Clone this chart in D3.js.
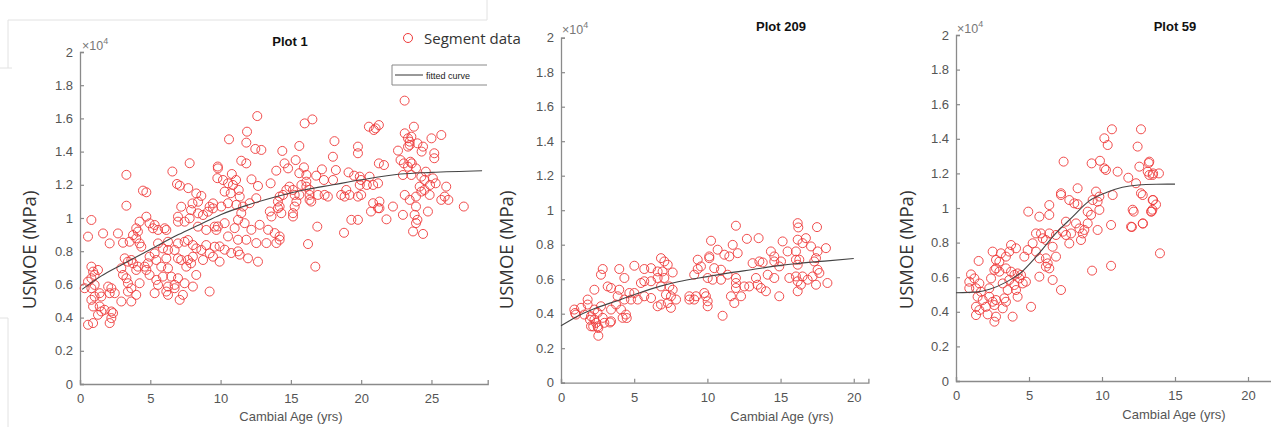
<!DOCTYPE html>
<html><head><meta charset="utf-8">
<script src="https://cdn.jsdelivr.net/npm/d3@7"></script>
<style>body{margin:0;background:#fff;} svg{display:block;}</style>
</head><body><svg id="c" width="1271" height="427"></svg>
<script>
// ---------------- DATA ----------------
const yTicks = [0,0.2,0.4,0.6,0.8,1,1.2,1.4,1.6,1.8,2];
const plot1Ticks = [0,5,10,15,20,25];
const plot209Ticks = [0,5,10,15,20];
const plot59Ticks = [0,5,10,15,20];
const titles = ["Plot 1","Plot 209","Plot 59"];
const xLabel = "Cambial Age (yrs)";
const yLabel = "USMOE (MPa)";
const legendLabels = ["Segment data","fitted curve"];

// values in units of 10^4 MPa
const plot1Points = [[7.8,1.33],[6.57,1.28],[9.8,1.31],[3.3,1.26],[9.77,1.24],[6.9,1.205],[7.1,1.195],[7.7,1.18],[4.48,1.165],[4.72,1.155],[8.27,1.148],[8.63,1.133],[8.0,1.088],[8.4,1.098],[9.46,1.088],[9.22,1.068],[3.3,1.074],[7.2,1.068],[7.9,1.048],[8.4,1.028],[8.75,1.018],[9.1,1.038],[9.46,1.058],[6.97,1.008],[7.44,0.978],[7.8,0.998],[6.97,0.978],[0.81,0.988],[4.72,1.008],[4.24,0.978],[4.95,0.968],[5.19,0.938],[4.0,0.938],[4.12,0.918],[6.02,0.938],[6.14,0.928],[5.31,0.958],[5.55,0.928],[8.39,0.948],[8.98,0.928],[9.58,0.948],[9.7,0.928],[0.57,0.888],[1.64,0.907],[2.7,0.907],[2.11,0.847],[3.06,0.851],[3.53,0.857],[3.77,0.897],[4.24,0.847],[4.36,0.827],[4.0,0.877],[5.55,0.847],[6.26,0.857],[6.97,0.847],[7.44,0.857],[7.68,0.867],[8.03,0.837],[8.27,0.817],[8.63,0.807],[8.98,0.837],[9.58,0.827],[9.22,0.787],[9.46,0.767],[8.75,0.747],[8.03,0.767],[7.9,0.727],[7.68,0.747],[6.97,0.757],[7.2,0.747],[7.56,0.707],[6.73,0.807],[6.26,0.807],[5.9,0.817],[5.31,0.787],[4.95,0.767],[6.14,0.757],[5.78,0.707],[6.26,0.697],[5.43,0.747],[4.83,0.727],[4.6,0.707],[4.72,0.687],[4.12,0.707],[4.0,0.687],[3.77,0.727],[3.65,0.747],[3.41,0.737],[3.18,0.757],[2.94,0.697],[3.06,0.657],[3.3,0.637],[4.95,0.657],[5.43,0.627],[5.9,0.647],[6.49,0.647],[6.97,0.637],[6.73,0.597],[7.44,0.607],[8.03,0.587],[8.27,0.657],[5.55,0.597],[6.26,0.587],[6.73,0.577],[4.24,0.607],[3.41,0.607],[3.65,0.577],[3.41,0.557],[4.0,0.537],[5.31,0.547],[6.14,0.557],[6.26,0.537],[7.09,0.507],[7.32,0.537],[9.22,0.557],[0.81,0.707],[0.93,0.677],[1.04,0.657],[0.81,0.637],[1.28,0.687],[0.57,0.617],[1.04,0.597],[0.81,0.577],[0.33,0.577],[2.0,0.587],[2.23,0.577],[2.47,0.547],[2.11,0.547],[1.4,0.547],[1.52,0.527],[1.04,0.527],[0.81,0.507],[0.93,0.467],[1.4,0.467],[1.52,0.437],[1.28,0.417],[1.75,0.447],[2.23,0.437],[2.94,0.497],[3.65,0.497],[0.57,0.357],[0.93,0.367],[2.11,0.367],[2.35,0.427],[2.23,0.397],
[12.61,1.614],[15.98,1.57],[16.53,1.594],[11.88,1.52],[10.6,1.474],[11.83,1.454],[12.47,1.416],[12.9,1.41],[18.1,1.463],[19.77,1.43],[19.77,1.39],[14.39,1.404],[15.6,1.434],[17.99,1.369],[15.34,1.349],[14.55,1.329],[14.8,1.299],[13.96,1.285],[15.93,1.305],[15.6,1.27],[16.1,1.26],[11.47,1.345],[11.83,1.329],[9.81,1.299],[10.8,1.265],[11.1,1.229],[12.2,1.233],[12.66,1.193],[10.17,1.229],[17.21,1.293],[18.2,1.289],[19.1,1.275],[19.5,1.255],[19.99,1.229],[16.8,1.255],[17.35,1.229],[18.0,1.229],[13.56,1.209],[14.9,1.189],[14.68,1.169],[15.15,1.169],[15.75,1.199],[16.1,1.219],[16.1,1.189],[16.33,1.169],[15.27,1.139],[10.29,1.159],[10.72,1.149],[11.29,1.169],[11.36,1.129],[10.53,1.209],[10.88,1.199],[12.54,1.119],[12.07,1.089],[14.2,1.129],[14.44,1.139],[14.08,1.099],[14.2,1.069],[15.6,1.139],[16.33,1.139],[16.33,1.109],[16.92,1.139],[17.4,1.139],[17.63,1.129],[18.58,1.139],[18.94,1.169],[18.82,1.129],[19.17,1.139],[19.77,1.129],[20.0,1.139],[15.39,1.099],[16.45,1.099],[15.27,1.069],[10.05,1.069],[10.53,1.089],[11.12,1.079],[11.6,1.069],[11.47,1.029],[11.24,0.989],[11.71,0.969],[11.0,0.939],[10.29,0.969],[9.81,0.949],[12.78,0.959],[12.19,0.929],[13.38,0.929],[13.85,0.909],[14.2,0.889],[14.32,1.029],[13.62,1.009],[13.5,1.039],[14.08,1.059],[15.15,1.029],[15.15,1.009],[10.53,0.889],[11.24,0.869],[11.83,0.869],[12.54,0.849],[13.26,0.849],[13.97,0.849],[14.2,0.869],[9.93,0.829],[10.29,0.809],[10.76,0.789],[11.24,0.799],[11.36,0.779],[11.95,0.757],[12.66,0.737],[9.93,0.737],[16.88,0.948],[18.78,0.911],[19.3,0.989],[19.77,0.989],[16.22,0.843],[16.74,0.707],
[23.09,1.707],[20.55,1.55],[20.9,1.53],[21.26,1.56],[21.03,1.54],[23.75,1.55],[23.1,1.51],[23.33,1.48],[23.45,1.46],[23.57,1.49],[23.33,1.43],[23.45,1.44],[25.0,1.48],[25.7,1.5],[22.62,1.406],[24.0,1.45],[24.4,1.43],[24.3,1.4],[25.2,1.39],[25.2,1.36],[21.26,1.329],[21.62,1.319],[22.8,1.349],[23.04,1.329],[23.5,1.339],[23.6,1.329],[23.33,1.309],[23.9,1.299],[24.6,1.279],[22.97,1.259],[23.57,1.259],[19.9,1.249],[20.6,1.249],[20.4,1.199],[20.85,1.199],[21.2,1.209],[19.9,1.199],[24.28,1.249],[24.5,1.229],[25.1,1.239],[24.9,1.199],[25.3,1.209],[24.16,1.189],[24.5,1.169],[24.87,1.139],[24.28,1.159],[26.05,1.189],[23.1,1.139],[23.45,1.109],[23.9,1.129],[25.7,1.109],[26.2,1.109],[25.94,1.129],[20.85,1.089],[21.3,1.099],[21.2,1.059],[20.7,1.039],[21.3,1.059],[22.26,1.069],[22.97,1.019],[23.9,1.069],[23.8,1.019],[24.0,0.989],[24.75,1.039],[23.9,0.969],[21.8,0.992],[23.69,0.919],[24.4,0.904],[27.3,1.069]];
const plot1Fit = [[0.15,0.57],[1.5,0.65],[3,0.72],[5,0.81],[7,0.9],[8.5,0.96],[10,1.02],[12,1.08],[14,1.13],[16,1.17],[18,1.2],[20,1.23],[22.8,1.265],[25,1.275],[28.6,1.285]];

const plot209Points = [[11.95,0.91],[16.17,0.925],[16.21,0.9],[17.49,0.902],[10.25,0.823],[12.7,0.834],[13.5,0.838],[15.14,0.819],[16.17,0.829],[16.5,0.809],[16.73,0.838],[11.73,0.799],[10.7,0.771],[11.16,0.742],[10.13,0.732],[14.34,0.761],[14.57,0.732],[15.48,0.761],[17.08,0.79],[17.53,0.761],[18.1,0.78],[17.42,0.722],[16.05,0.761],[16.28,0.713],[12.07,0.751],[11.5,0.732],[9.34,0.713],[10.13,0.722],[6.83,0.722],[7.06,0.703],[7.29,0.684],[6.94,0.645],[7.63,0.639],[2.85,0.659],[2.73,0.626],[3.98,0.659],[4.33,0.607],[5.01,0.678],[5.69,0.659],[6.15,0.664],[6.6,0.645],[9.34,0.659],[9.56,0.674],[10.47,0.664],[10.93,0.655],[11.38,0.626],[13.09,0.693],[13.55,0.703],[13.78,0.697],[14.57,0.703],[14.91,0.674],[15.03,0.703],[16.05,0.713],[16.17,0.684],[17.3,0.703],[17.53,0.655],[9.1,0.626],[10.02,0.607],[10.36,0.597],[10.93,0.597],[11.95,0.607],[11.95,0.578],[11.95,0.549],[11.61,0.501],[12.3,0.501],[12.52,0.558],[13.32,0.607],[14.12,0.626],[14.57,0.607],[15.6,0.607],[16.05,0.616],[16.17,0.588],[16.5,0.616],[16.85,0.597],[17.19,0.616],[17.65,0.636],[12.86,0.558],[13.43,0.568],[13.66,0.549],[14.0,0.53],[14.91,0.501],[16.39,0.568],[16.17,0.53],[17.42,0.568],[18.2,0.578],[5.46,0.578],[5.69,0.588],[6.15,0.588],[6.6,0.607],[7.06,0.607],[3.19,0.558],[3.42,0.549],[2.28,0.539],[3.98,0.539],[4.67,0.52],[5.01,0.52],[6.83,0.558],[7.4,0.558],[7.63,0.539],[7.17,0.51],[7.51,0.501],[7.86,0.482],[8.77,0.501],[9.22,0.501],[9.79,0.52],[9.9,0.501],[10.02,0.472],[10.02,0.443],[6.6,0.443],[6.83,0.453],[7.29,0.462],[7.51,0.434],[8.77,0.482],[9.1,0.482],[6.15,0.491],[5.69,0.501],[5.24,0.482],[4.78,0.482],[4.33,0.482],[3.87,0.501],[11.84,0.462],[11.04,0.388],[1.82,0.482],[1.82,0.453],[1.37,0.434],[0.91,0.424],[1.02,0.395],[1.59,0.395],[2.28,0.424],[2.5,0.405],[2.05,0.385],[2.73,0.443],[3.42,0.424],[3.76,0.453],[4.1,0.424],[4.44,0.395],[4.21,0.376],[3.42,0.356],[2.85,0.376],[2.96,0.347],[2.28,0.366],[2.39,0.347],[2.5,0.327],[2.05,0.327],[0.96,0.404],[1.98,0.365],[2.2,0.326],[2.55,0.317],[2.55,0.272],[3.35,0.349],[4.49,0.375]];
const plot209Fit = [[0,0.33],[1,0.38],[2.3,0.43],[4,0.48],[5,0.51],[6.8,0.56],[8,0.585],[10,0.615],[11.4,0.635],[13,0.655],[15,0.68],[16,0.69],[18,0.705],[20,0.72]];

const plot59Points = [[10.68,1.455],[12.67,1.455],[10.16,1.403],[10.39,1.364],[12.44,1.355],[7.37,1.268],[9.29,1.258],[9.86,1.273],[10.16,1.229],[10.27,1.22],[11.07,1.21],[11.8,1.175],[12.56,1.239],[13.13,1.21],[13.24,1.268],[13.47,1.191],[13.24,1.191],[12.33,1.143],[12.67,1.085],[12.79,1.075],[13.47,1.046],[7.19,1.085],[7.19,1.075],[8.33,1.114],[9.59,1.095],[9.82,1.066],[9.36,1.046],[9.7,1.037],[10.73,1.075],[7.76,1.046],[8.1,1.027],[8.33,1.022],[6.39,1.017],[6.39,0.96],[4.95,0.979],[5.71,0.95],[9.02,0.979],[9.25,0.96],[9.82,0.989],[12.17,0.979],[13.36,0.979],[7.53,0.921],[8.22,0.911],[8.45,0.882],[9.02,0.911],[9.7,0.873],[10.62,0.902],[11.99,0.892],[12.79,0.911],[5.48,0.853],[5.82,0.853],[6.39,0.853],[6.85,0.844],[7.31,0.863],[7.53,0.844],[7.88,0.853],[8.68,0.853],[8.79,0.873],[5.94,0.825],[6.16,0.815],[7.76,0.795],[8.56,0.815],[3.77,0.786],[4.11,0.767],[3.65,0.748],[5.25,0.796],[4.91,0.757],[5.48,0.748],[2.51,0.748],[3.08,0.738],[3.42,0.719],[2.74,0.7],[2.97,0.69],[4.68,0.719],[5.71,0.709],[6.16,0.709],[6.85,0.719],[6.62,0.776],[6.28,0.68],[6.16,0.661],[6.39,0.651],[1.55,0.694],[2.63,0.642],[2.74,0.651],[2.97,0.632],[3.42,0.651],[3.77,0.632],[4.0,0.613],[4.22,0.622],[4.34,0.593],[4.57,0.564],[4.79,0.574],[4.45,0.613],[5.71,0.603],[6.62,0.584],[7.19,0.526],[9.32,0.638],[10.62,0.666],[1.03,0.616],[1.26,0.593],[0.91,0.574],[1.6,0.564],[0.91,0.536],[1.37,0.536],[1.71,0.516],[2.28,0.536],[2.4,0.593],[3.2,0.564],[3.65,0.584],[4.0,0.555],[4.11,0.526],[3.54,0.526],[1.48,0.487],[1.83,0.468],[2.28,0.487],[2.51,0.458],[2.74,0.468],[2.63,0.439],[1.37,0.429],[2.05,0.429],[1.6,0.41],[3.31,0.478],[3.42,0.458],[3.2,0.42],[5.14,0.429],[3.88,0.372],[2.74,0.372],[2.17,0.385],[2.63,0.343],[1.37,0.381],[4.22,0.487],[13.97,0.738],[13.5,1.046],[13.7,1.02],[13.45,0.99],[13.2,1.26],[13.9,1.2],[13.5,1.2],[12.1,0.99],[12.05,0.89],[12.8,0.91],[13.4,0.98]];
const plot59Fit = [[0,0.51],[1.5,0.515],[2.3,0.53],[3.4,0.57],[4.5,0.63],[5.3,0.7],[6,0.77],[6.8,0.85],[8,0.95],[9.1,1.04],[10.3,1.09],[11.4,1.12],[12.5,1.133],[13.7,1.137],[15,1.138]];

// ---------------- LAYOUT ----------------
const panels = [
  {title:titles[0], pts:plot1Points, fit:plot1Fit, xt:plot1Ticks, xd:[0,29], xr:[80,487.7], yr:[384,52],
   tt:[290,46], xl:[291,421], yl:[30,250], ex:[82,50]},
  {title:titles[1], pts:plot209Points, fit:plot209Fit, xt:plot209Ticks, xd:[0,21], xr:[561,868.4], yr:[382.7,37.7],
   tt:[781,31], xl:[782,421], yl:[507,250], ex:[562,34]},
  {title:titles[2], pts:plot59Points, fit:plot59Fit, xt:plot59Ticks, xd:[0,22], xr:[956,1277.2], yr:[381,35],
   tt:[1175,31], xl:[1174,419], yl:[907,250], ex:[957,33]}
];

const svg = d3.select("#c");
const axisCol = "#8a8a8a", textCol = "#555";
const fontAx = "Liberation Sans, Arial, sans-serif";

// faint frame artifacts
const faint = svg.append("g").attr("stroke","#e2e2e2").attr("stroke-width",1).attr("fill","none");
faint.append("path").attr("d","M8,68 L8,20 L487,20 L487,0");
faint.append("path").attr("d","M0,68 L12,68");
faint.append("path").attr("d","M8,427 L8,318 L0,318");

panels.forEach(p => {
  const x = d3.scaleLinear().domain(p.xd).range(p.xr);
  const y = d3.scaleLinear().domain([0,2]).range(p.yr);
  const g = svg.append("g");

  const yAx = g.append("g").attr("transform",`translate(${p.xr[0]},0)`)
    .call(d3.axisLeft(y).tickValues(yTicks).tickSize(-4).tickPadding(7).tickFormat(d3.format("~g")));
  const xAx = g.append("g").attr("transform",`translate(0,${p.yr[0]})`)
    .call(d3.axisBottom(x).tickValues(p.xt).tickSize(-4).tickPadding(10).tickFormat(d3.format("~g")));
  [yAx,xAx].forEach(a=>{
    a.select(".domain").attr("stroke",axisCol).attr("stroke-width",1.3);
    a.selectAll(".tick line").attr("stroke",axisCol).attr("stroke-width",1.2);
    a.selectAll(".tick text").attr("fill",textCol).style("font-family",fontAx).style("font-size","13px");
  });

  // x10^4
  const ex = g.append("text").attr("x",p.ex[0]).attr("y",p.ex[1]).attr("fill","#777")
    .style("font-family",fontAx).style("font-size","12.5px");
  ex.append("tspan").text("\u00d710");
  ex.append("tspan").attr("dy",-6).style("font-size","9px").text("4");

  // points
  g.append("g").selectAll("circle").data(p.pts).join("circle")
    .attr("cx",d=>x(d[0])).attr("cy",d=>y(d[1])).attr("r",4.5)
    .attr("fill","none").attr("stroke","#ee3a3a").attr("stroke-width",1).attr("stroke-opacity",0.9);

  // fit
  g.append("path").datum(p.fit)
    .attr("d",d3.line().x(d=>x(d[0])).y(d=>y(d[1])).curve(d3.curveMonotoneX))
    .attr("fill","none").attr("stroke","#444").attr("stroke-width",1.1);

  // title
  g.append("text").attr("x",p.tt[0]).attr("y",p.tt[1]).attr("text-anchor","middle")
    .style("font-family",fontAx).style("font-size","13px").style("font-weight","bold").attr("fill","#111").text(p.title);
  // x label
  g.append("text").attr("x",p.xl[0]).attr("y",p.xl[1]).attr("text-anchor","middle")
    .style("font-family",fontAx).style("font-size","13px").attr("fill","#555").text(xLabel);
  // y label
  g.append("text").attr("transform",`translate(${p.yl[0]},${p.yl[1]}) rotate(-90)`).attr("text-anchor","middle")
    .attr("dy","0.35em").style("font-family","Open Sans, sans-serif").style("font-size","18.5px").attr("fill","#333").text(yLabel);
});

// legends
const lg = svg.append("g");
lg.append("circle").attr("cx",408).attr("cy",38).attr("r",4.5).attr("fill","none").attr("stroke","#ee3a3a").attr("stroke-width",1);
lg.append("text").attr("x",424).attr("y",44).style("font-family","Open Sans, sans-serif").style("font-size","15px").attr("fill","#333").text(legendLabels[0]);
lg.append("path").attr("d","M487,65 L392,65 L392,85 L487,85").attr("fill","none").attr("stroke","#888").attr("stroke-width",1);
lg.append("path").attr("d","M395,75 L423,75").attr("stroke","#333").attr("stroke-width",1);
lg.append("text").attr("x",426).attr("y",78.5).style("font-family",fontAx).style("font-size","9px").attr("fill","#222").text(legendLabels[1]);
</script></body></html>
